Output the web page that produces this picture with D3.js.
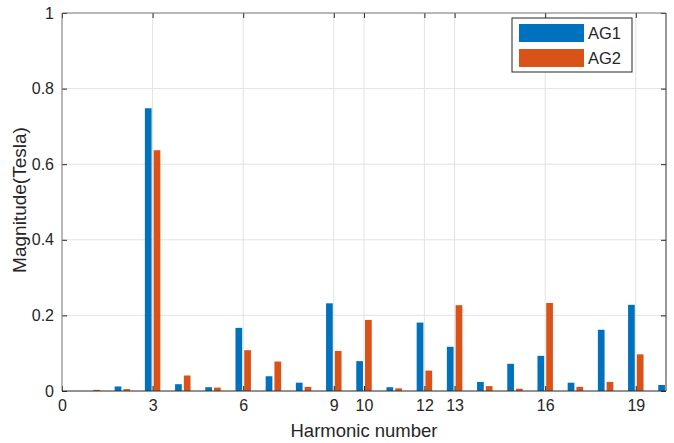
<!DOCTYPE html>
<html>
<head>
<meta charset="utf-8">
<script src="https://cdn.jsdelivr.net/npm/d3@7"></script>
<style>
  body { margin: 0; background: #fff; }
  svg text { font-family: "Liberation Sans", Arial, sans-serif; fill: #262626; }
</style>
</head>
<body>
<div id="chart"></div>
<script>
// harmonic numbers and magnitudes
var harmonics = [1, 2, 3, 4, 5, 6, 7, 8, 9, 10, 11, 12, 13, 14, 15, 16, 17, 18, 19, 20];
var ag1 = [0.000, 0.012, 0.748, 0.018, 0.010, 0.167, 0.039, 0.022, 0.232, 0.079,
           0.010, 0.181, 0.117, 0.024, 0.072, 0.093, 0.022, 0.162, 0.228, 0.016];
var ag2 = [0.003, 0.005, 0.637, 0.041, 0.009, 0.108, 0.078, 0.011, 0.106, 0.188,
           0.007, 0.054, 0.227, 0.013, 0.006, 0.233, 0.011, 0.024, 0.097, 0.010];
var seriesNames = ["AG1", "AG2"];
var xTicks = [0, 3, 6, 9, 10, 12, 13, 16, 19];
var yTicks = [0, 0.2, 0.4, 0.6, 0.8, 1];

var colors = ["#0072BD", "#D95319"];

var margin = { top: 13, right: 8, bottom: 52, left: 62 };
var totalW = 674, totalH = 443;
var width = totalW - margin.left - margin.right;
var height = totalH - margin.top - margin.bottom;

var svg = d3.select("#chart").append("svg")
  .attr("width", totalW)
  .attr("height", totalH);

var g = svg.append("g")
  .attr("transform", "translate(" + margin.left + "," + margin.top + ")");

var x = d3.scaleLinear().domain([0, 20]).range([0, width]);
var y = d3.scaleLinear().domain([0, 1]).range([height, 0]);

svg.append("defs").append("clipPath").attr("id", "clipper")
  .append("rect").attr("width", width).attr("height", height);

// grid
g.append("g").selectAll("line.gx").data(xTicks).enter().append("line")
  .attr("x1", function(d) { return x(d); }).attr("x2", function(d) { return x(d); })
  .attr("y1", 0).attr("y2", height)
  .attr("stroke", "#e3e3e3").attr("stroke-width", 1);
g.append("g").selectAll("line.gy").data(yTicks).enter().append("line")
  .attr("y1", function(d) { return y(d); }).attr("y2", function(d) { return y(d); })
  .attr("x1", 0).attr("x2", width)
  .attr("stroke", "#e3e3e3").attr("stroke-width", 1);

// bars
var offset = 0.145, barW = 0.222;
var bars = g.append("g").attr("clip-path", "url(#clipper)");
[ag1, ag2].forEach(function(vals, si) {
  bars.selectAll("rect.s" + si).data(harmonics).enter().append("rect")
    .attr("class", "s" + si)
    .attr("x", function(d) { return x(d + (si === 0 ? -offset : offset) - barW / 2); })
    .attr("width", x(barW) - x(0))
    .attr("y", function(d, i) { return y(vals[i]); })
    .attr("height", function(d, i) { return y(0) - y(vals[i]); })
    .attr("fill", colors[si]);
});

// axes (ticks point inward)
var xAxis = g.append("g").attr("transform", "translate(0," + height + ")")
  .call(d3.axisBottom(x).tickValues(xTicks).tickFormat(d3.format("d"))
    .tickSizeInner(-5).tickSizeOuter(0).tickPadding(9));
var xTop = g.append("g")
  .call(d3.axisTop(x).tickValues(xTicks).tickFormat("")
    .tickSizeInner(-5).tickSizeOuter(0));
var yAxis = g.append("g")
  .call(d3.axisLeft(y).tickValues(yTicks).tickFormat(function(d) { return d === 0 ? "0" : d === 1 ? "1" : d3.format(".1f")(d); })
    .tickSizeInner(-5).tickSizeOuter(0).tickPadding(8));
var yRight = g.append("g").attr("transform", "translate(" + width + ",0)")
  .call(d3.axisRight(y).tickValues(yTicks).tickFormat("")
    .tickSizeInner(-5).tickSizeOuter(0));

[xAxis, xTop, yAxis, yRight].forEach(function(a) {
  a.select(".domain").remove();
  a.selectAll(".tick line").attr("stroke", "#262626");
  a.selectAll(".tick text").attr("font-size", 16).attr("fill", "#262626");
});

// box
g.append("line").attr("x1", 0).attr("x2", width).attr("y1", 0).attr("y2", 0).attr("stroke", "#7f7f7f");
g.append("line").attr("x1", 0).attr("x2", 0).attr("y1", 0).attr("y2", height).attr("stroke", "#7f7f7f");
g.append("line").attr("x1", width).attr("x2", width).attr("y1", 0).attr("y2", height).attr("stroke", "#333");
g.append("line").attr("x1", 0).attr("x2", width).attr("y1", height).attr("y2", height).attr("stroke", "#333");

// axis labels
svg.append("text")
  .attr("x", margin.left + width / 2).attr("y", 437)
  .attr("text-anchor", "middle").attr("font-size", 18.5)
  .text("Harmonic number");
svg.append("text")
  .attr("transform", "translate(26," + (margin.top + height / 2 - 2) + ") rotate(-90)")
  .attr("text-anchor", "middle").attr("font-size", 19)
  .text("Magnitude(Tesla)");

// legend
var lg = svg.append("g").attr("transform", "translate(512,18)");
lg.append("rect").attr("width", 120).attr("height", 54)
  .attr("fill", "#fff").attr("stroke", "#262626").attr("stroke-width", 1);
seriesNames.forEach(function(name, i) {
  lg.append("rect").attr("x", 7).attr("y", 6 + i * 25).attr("width", 65).attr("height", 18)
    .attr("fill", colors[i]);
  lg.append("text").attr("x", 76).attr("y", 21 + i * 25)
    .attr("font-size", 16.5).text(name);
});
</script>
</body>
</html>
